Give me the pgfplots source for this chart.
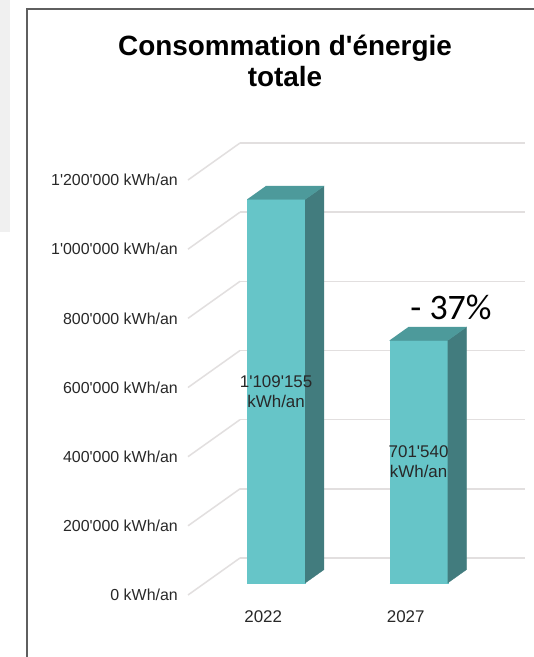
\documentclass[border=0pt]{standalone}
\usepackage{pgfplots}
\pgfplotsset{compat=1.18}
\usepackage{fontspec}
\setmainfont{Liberation Sans}[Ligatures=TeXOff]
\newfontfamily\carlito{Carlito}
\definecolor{barfront}{RGB}{102,197,200}
\definecolor{bartop}{RGB}{77,154,155}
\definecolor{barside}{RGB}{66,124,126}
\definecolor{gridc}{RGB}{226,223,223}
\definecolor{framec}{RGB}{95,95,95}
\definecolor{txt}{RGB}{40,40,40}
\begin{document}
\begin{tikzpicture}
\path[use as bounding box] (0,0) rectangle (534bp,657bp);
\fill[white] (0,0) rectangle (534bp,657bp);
\fill[black!6] (0,425bp) rectangle (10bp,657bp);
\draw[framec, line width=2bp] (27bp,-5bp) -- (27bp,648bp) -- (540bp,648bp);
\node[anchor=base, font=\bfseries\fontsize{28}{30}\selectfont] at (285bp,601bp) {Consommation d'énergie};
\node[anchor=base, font=\bfseries\fontsize{28}{30}\selectfont] at (285bp,570bp) {totale};
\begin{axis}[
  at={(188bp,62bp)}, anchor=south west,
  x={(142.5bp,0bp)}, y={(52bp,37bp)}, z={(0bp,0.345833bp)},
  xmin=0.5, xmax=2.5, ymin=0, ymax=1, zmin=0, zmax=1200,
  z filter/.expression={z/1000},
  clip=false,
  axis line style={draw=none},
  tick style={draw=none},
  xtick={1,2}, xticklabels={2022,2027},
  ytick=\empty,
  ztick={0,200,...,1200},
  zticklabels={0 kWh/an,200'000 kWh/an,400'000 kWh/an,600'000 kWh/an,800'000 kWh/an,1'000'000 kWh/an,1'200'000 kWh/an},
  zmajorgrids=true, xmajorgrids=false, ymajorgrids=false,
  major grid style={gridc, line width=1.5bp},
  zticklabel style={anchor=east, inner sep=0pt, xshift=-10bp, font=\fontsize{16}{16}\selectfont, text=txt},
  xticklabel style={anchor=center, inner sep=0pt, xshift=4bp, yshift=-22bp, font=\fontsize{17}{17}\selectfont, text=txt},
]
% 2022 : 1'109'155 kWh/an
\addplot3[fill=barfront, draw=barfront, line width=0.3pt, mark=none] coordinates {(0.796,0.324,0) (1.204,0.324,0) (1.204,0.324,1109155) (0.796,0.324,1109155)};
\addplot3[fill=barside, draw=barside, line width=0.3pt, mark=none] coordinates {(1.204,0.324,0) (1.204,0.684,0) (1.204,0.684,1109155) (1.204,0.324,1109155)};
\addplot3[fill=bartop, draw=bartop, line width=0.3pt, mark=none] coordinates {(0.796,0.324,1109155) (1.204,0.324,1109155) (1.204,0.684,1109155) (0.796,0.684,1109155)};
% 2027 : 701'540 kWh/an
\addplot3[fill=barfront, draw=barfront, line width=0.3pt, mark=none] coordinates {(1.796,0.324,0) (2.204,0.324,0) (2.204,0.324,701540) (1.796,0.324,701540)};
\addplot3[fill=barside, draw=barside, line width=0.3pt, mark=none] coordinates {(2.204,0.324,0) (2.204,0.684,0) (2.204,0.684,701540) (2.204,0.324,701540)};
\addplot3[fill=bartop, draw=bartop, line width=0.3pt, mark=none] coordinates {(1.796,0.324,701540) (2.204,0.324,701540) (2.204,0.684,701540) (1.796,0.684,701540)};
\node[align=center, font=\fontsize{17}{20}\selectfont, text=txt] at (axis cs:1,0.324,554.6) {1'109'155\\kWh/an};
\node[align=center, font=\fontsize{17}{20}\selectfont, text=txt] at (axis cs:2,0.324,350.8) {701'540\\kWh/an};
\end{axis}
\node[inner sep=0pt, font=\carlito\fontsize{36}{36}\selectfont] at (451bp,350bp) {- 37\%};
\end{tikzpicture}
\end{document}
